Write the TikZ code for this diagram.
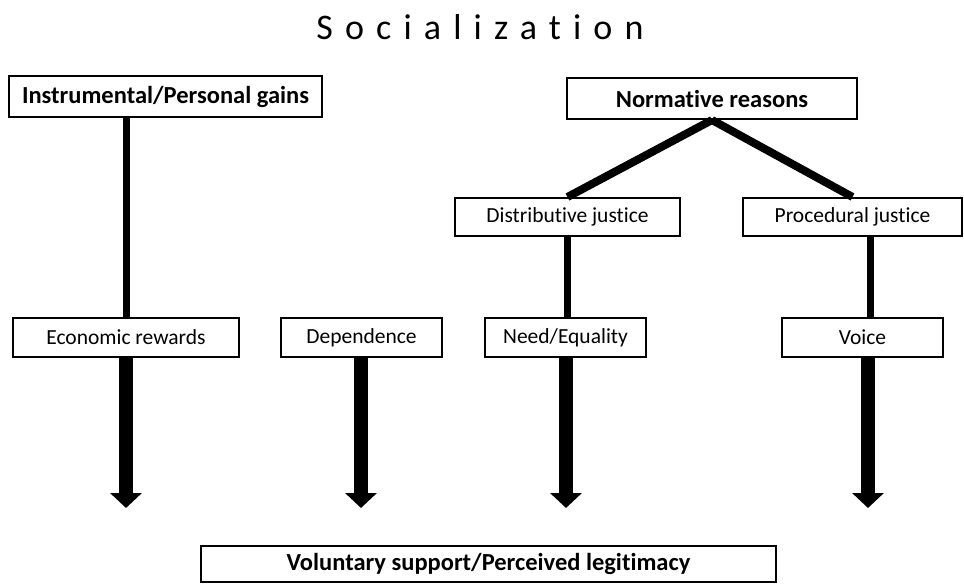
\documentclass[tikz,border=0pt]{standalone}
\usepackage{fontspec}
\setmainfont{Carlito}[Ligatures=NoCommon]
\usetikzlibrary{arrows.meta,calc}
\begin{document}
\begin{tikzpicture}[x=1pt,y=-1pt,
  box/.style={draw=black, line width=2pt, fill=white, inner sep=0pt, minimum height=39pt, font=\fontsize{21.5}{24}\selectfont},
  bbox/.style={box, font=\fontsize{24.5}{28}\selectfont\bfseries},
  conn/.style={line width=7pt},
  slant/.style={line width=8pt},
  bigarrow/.style={line width=14pt, -{Triangle[width=31pt,length=15pt]}}]
\useasboundingbox (0,0) rectangle (964,585);
\node[font=\fontsize{36}{40}\selectfont\addfontfeature{LetterSpace=33.7}] (title) at (480,27) {Socialization};
\node[bbox, minimum width=313pt, minimum height=41pt] (ins) at (165.5,96.5) {Instrumental/Personal gains};
\node[bbox, minimum width=290pt, minimum height=41pt] (norm) at (712,98.5) {Normative reasons};
\node[box, minimum width=225pt, minimum height=38pt] (dist) at (567.5,217) {Distributive justice};
\node[box, minimum width=219pt, minimum height=38pt] (proc) at (852.5,217) {Procedural justice};
\node[box, minimum width=226pt] (econ) at (126,337.5) {Economic rewards};
\node[box, minimum width=161pt] (dep) at (361.5,337.5) {Dependence};
\node[box, minimum width=161pt] (need) at (565.5,337.5) {Need/Equality};
\node[box, minimum width=161pt] (voice) at (862.5,337.5) {Voice};
\node[bbox, minimum width=575pt, minimum height=36pt] (vol) at (488.5,564) {Voluntary support/Perceived legitimacy};
\coordinate (t1) at (126,508);
\coordinate (t2) at (361,508);
\coordinate (t3) at (566,508);
\coordinate (t4) at (868,508);
\coordinate (pv) at ($(proc.south)+(17.5,0)$);
\draw[conn] (ins.south -| econ.north) -- (econ.north);
\draw[slant] (norm.south) -- (dist.north);
\draw[slant] (norm.south) -- (proc.north);
\draw[conn] (dist.south) -- (dist.south |- need.north);
\draw[conn] (pv) -- (pv |- voice.north);
\draw[bigarrow] (econ.south -| t1) -- (t1);
\draw[bigarrow] (dep.south -| t2) -- (t2);
\draw[bigarrow] (need.south -| t3) -- (t3);
\draw[bigarrow] (voice.south -| t4) -- (t4);
\end{tikzpicture}
\end{document}
